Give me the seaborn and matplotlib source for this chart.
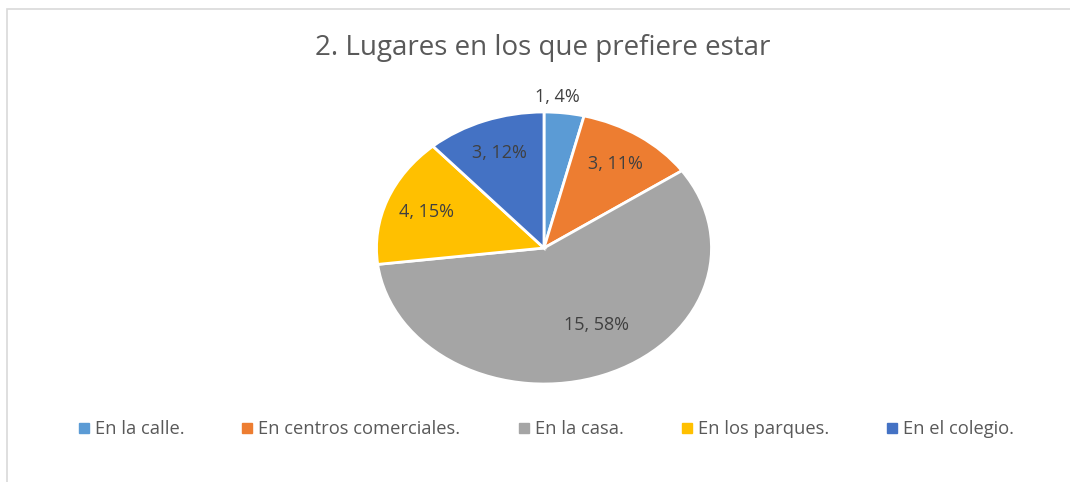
import matplotlib.pyplot as plt
import seaborn as sns
from matplotlib.lines import Line2D
from matplotlib.patches import Rectangle
import numpy as np

# ==========================
# DATA
# ==========================

categories = ["En la calle.", "En centros comerciales.", "En la casa.",
              "En los parques.", "En el colegio."]
counts = [1, 3, 15, 4, 3]
percent_labels = ["4%", "11%", "58%", "15%", "12%"]
title = "2. Lugares en los que prefiere estar"

colors = ["#5B9BD5", "#ED7D31", "#A5A5A5", "#FFC000", "#4472C4"]

# ==========================
# STYLE
# ==========================

sns.set_theme(style="white")
plt.rcParams["font.family"] = ["Open Sans", "DejaVu Sans"]
text_color = "#595959"

fig = plt.figure(figsize=(10.7, 4.82), dpi=100)

# chart area border (Excel style)
fig.patches.append(Rectangle((7 / 1070, -0.1), 1.1, 1 - 9 / 482 + 0.1,
                             transform=fig.transFigure, fill=False,
                             edgecolor="#d9d9d9", linewidth=1.2))

# pie is stretched horizontally in the reference -> auto aspect axes
ax = fig.add_axes([376.5 / 1070, 98 / 482, 335 / 1070, 272 / 482])

wedges, _ = ax.pie(
    counts,
    colors=colors,
    startangle=90,
    counterclock=False,
    radius=1,
    wedgeprops=dict(edgecolor="white", linewidth=2),
)
ax.set_aspect("auto")
ax.set_xlim(-1, 1)
ax.set_ylim(-1, 1)
ax.axis("off")

# data labels "value, percent"
for i, w in enumerate(wedges):
    mid = np.deg2rad((w.theta1 + w.theta2) / 2)
    share = counts[i] / sum(counts)
    if share < 0.06:
        dist = 1.11
        mid = np.deg2rad(86)
    elif share > 0.5:
        dist = 0.65
        mid = np.deg2rad(-61)
    else:
        dist = 0.75
    ax.text(dist * np.cos(mid), dist * np.sin(mid),
            f"{counts[i]}, {percent_labels[i]}",
            ha="center", va="center", fontsize=13, color="#404040")

fig.text(0.507, 1 - 48 / 482, title, ha="center", va="center",
         fontsize=20, color=text_color)

handles = [Line2D([0], [0], marker="s", linestyle="", markersize=7,
                  markerfacecolor=c, markeredgecolor=c) for c in colors]
fig.legend(handles, categories, loc="center", ncol=5,
           bbox_to_anchor=(0.511, 1 - 429 / 482), frameon=False,
           fontsize=13.2, handlelength=0.5, handletextpad=0.35,
           columnspacing=3.2, labelcolor=text_color)

plt.savefig("out.png", dpi=100)
plt.close()
